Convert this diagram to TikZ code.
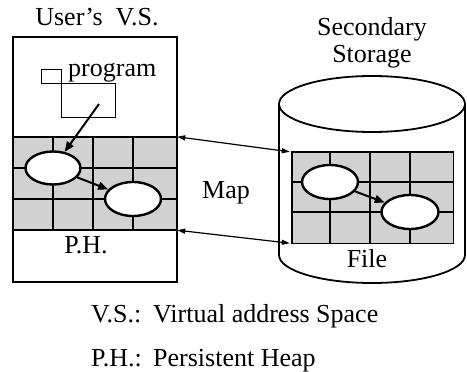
\documentclass[tikz,border=0pt]{standalone}
\usepackage{fontspec}
\setmainfont{Liberation Serif}
\usetikzlibrary{arrows.meta,shapes.geometric}
\begin{document}
\begin{tikzpicture}[x=1pt,y=-1pt,
  lbl/.style={font=\fontsize{26}{30}\selectfont, inner sep=0pt, anchor=base west},
  clbl/.style={font=\fontsize{26}{30}\selectfont, inner sep=0pt, anchor=base},
  box/.style={draw, line width=1.8pt},
  gridline/.style={line width=1.4pt},
  thin/.style={draw, line width=1pt, inner sep=0pt},
  shade/.style={fill=black!18, inner sep=0pt},
  obj/.style={draw, fill=white, ellipse, line width=2.4pt, inner sep=0pt},
  arr/.style={-{Triangle[length=10pt,width=8pt]}, line width=2pt},
  maparr/.style={{Triangle[length=8pt,width=5pt]}-{Triangle[length=8pt,width=5pt]}, line width=1.2pt}
]
\useasboundingbox (0,0) rectangle (467,372);

% ---- left: user's virtual space ----
\node[shade, minimum width=164pt, minimum height=93pt] (lgrid) at (95,183.5) {};
\foreach \dx in {40,80,120}
  \draw[gridline] (lgrid.north west) ++(\dx,0) -- ++(0,93);
\foreach \dy in {31,62}
  \draw[gridline] (lgrid.north west) ++(0,\dy) -- ++(164,0);
\draw[box] (lgrid.north west) -- (lgrid.north east);
\draw[box] (lgrid.south west) -- (lgrid.south east);
\node[box, minimum width=164pt, minimum height=245pt, inner sep=0pt] (vs) at (95,159.5) {};

\node[obj, minimum width=55pt, minimum height=33pt] (e1) at (53,168) {};
\node[obj, minimum width=56pt, minimum height=34pt] (e2) at (133,199) {};

\node[thin, minimum width=20pt, minimum height=14pt] (sq) at (51,76) {};
\node[thin, minimum width=54pt, minimum height=34pt] (prog) at (88,100) {};
\coordinate (pstart) at (99,104);
\draw[arr] (pstart) -- (e1);
\draw[arr] (e1) -- (e2);

\node[lbl] (tprog) at (68,77) {program};
\node[clbl] (tvs) at (97,26) {User's\ \ V.S.};
\node[clbl] (tph) at (86,253) {P.H.};

% ---- right: secondary storage ----
\draw[box] (279,104) -- (279,255) arc[start angle=180, end angle=360, x radius=93pt, y radius=28pt] -- (465,104);
\draw[box] (372,104) ellipse[x radius=93pt, y radius=28pt];

\node[shade, minimum width=161pt, minimum height=91pt] (rgrid) at (372.5,197.5) {};
\foreach \dx in {38,78,118}
  \draw[gridline] (rgrid.north west) ++(\dx,0) -- ++(0,91);
\foreach \dy in {30,60}
  \draw[gridline] (rgrid.north west) ++(0,\dy) -- ++(161,0);
\draw[gridline] (rgrid.north west) rectangle (rgrid.south east);

\node[obj, minimum width=56pt, minimum height=34pt] (e3) at (330,182) {};
\node[obj, minimum width=57pt, minimum height=34pt] (e4) at (410,212) {};
\draw[arr] (e3) -- (e4);

\node[clbl] (tsec) at (372,35) {Secondary};
\node[clbl] (tsto) at (372,63) {Storage};
\node[clbl] (tfile) at (367,267) {File};

% ---- map ----
\draw[maparr] (lgrid.north east) -- ([xshift=-2pt]rgrid.north west);
\draw[maparr] (lgrid.south east) -- ([xshift=-2pt]rgrid.south west);
\node[lbl] (tmap) at (202,198) {Map};

% ---- legend ----
\node[lbl] (k1) at (91,322) {V.S.:};
\node[lbl] (v1) at (153,322) {Virtual\ address\ Space};
\node[lbl] (k2) at (91,366) {P.H.:};
\node[lbl] (v2) at (153,366) {Persistent\ Heap};
\end{tikzpicture}
\end{document}
